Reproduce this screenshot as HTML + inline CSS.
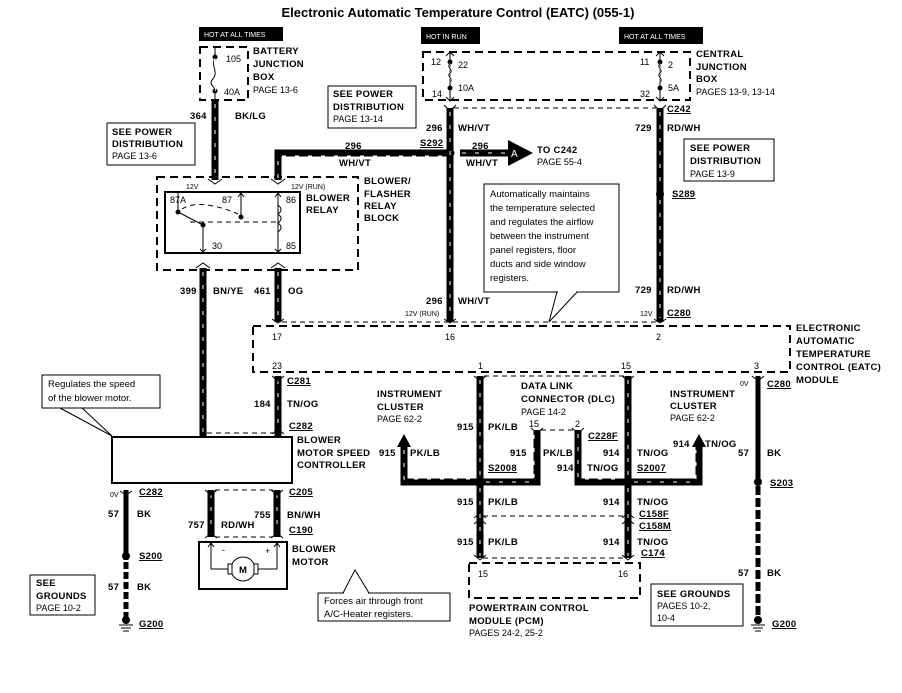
<!DOCTYPE html>
<html><head><meta charset="utf-8"><style>
html,body{margin:0;padding:0;background:#fff;}
svg{display:block;}
text{font-family:"Liberation Sans",sans-serif;fill:#000;}
.b{font-weight:bold;font-size:9.5px;letter-spacing:0.3px;}
.n{font-size:9px;}
.s{font-size:7px;}
.w{stroke:#000;stroke-width:7;fill:none;}
.wd{stroke:#fff;stroke-width:1;stroke-dasharray:4 9;fill:none;}
.d{stroke:#000;stroke-width:2;stroke-dasharray:8 5;fill:none;}
.dt{stroke:#000;stroke-width:1;stroke-dasharray:5 4;fill:none;}
.l{stroke:#000;stroke-width:1;fill:none;}
.bx{stroke:#000;stroke-width:1;fill:#fff;}
</style></head><body>
<svg width="902" height="693" viewBox="0 0 902 693" xmlns="http://www.w3.org/2000/svg">
<text x="458" y="17" text-anchor="middle" style="font-weight:bold;font-size:13px">Electronic Automatic Temperature Control (EATC) (055-1)</text>

<rect x="199" y="27" width="84" height="14" fill="#000"/>
<text x="204" y="37" class="s" style="fill:#fff">HOT AT ALL TIMES</text>
<rect x="421" y="27" width="59" height="17" fill="#000"/>
<text x="426" y="39" class="s" style="fill:#fff">HOT IN RUN</text>
<rect x="619" y="27" width="84" height="17" fill="#000"/>
<text x="624" y="39" class="s" style="fill:#fff">HOT AT ALL TIMES</text>

<path d="M200 47 H248 V100 H200 Z" class="d"/>
<path d="M215 48 V57 M215 92 V100" class="l"/>
<circle cx="215" cy="57" r="2.5"/><circle cx="215" cy="91" r="2.5"/>
<path d="M215 58 C210 66,220 72,212 80 C208 86,218 88,215 91" class="l" stroke-width="2"/>
<path d="M215 58 C212 66,220 72,214 80 C210 86,218 88,215 91" stroke="#fff" stroke-width="0.8" fill="none"/>
<text x="226" y="62" class="n">105</text><text x="224" y="95" class="n">40A</text>
<text x="253" y="54" class="b">BATTERY</text><text x="253" y="67" class="b">JUNCTION</text><text x="253" y="80" class="b">BOX</text><text x="253" y="93" class="n">PAGE 13-6</text>
<path d="M215 100 V180" class="w"/><path d="M215 104 V180" class="wd"/>
<text x="190" y="119" class="b">364</text><text x="235" y="119" class="b">BK/LG</text>

<rect x="107" y="123" width="88" height="42" class="bx"/>
<text x="112" y="135" class="b">SEE POWER</text><text x="112" y="147" class="b">DISTRIBUTION</text><text x="112" y="159" class="n">PAGE 13-6</text>

<rect x="328" y="86" width="88" height="42" class="bx"/>
<text x="333" y="97" class="b">SEE POWER</text><text x="333" y="110" class="b">DISTRIBUTION</text><text x="333" y="122" class="n">PAGE 13-14</text>

<path d="M157 177 H358 V270 H157 Z" class="d"/>
<path d="M208 179 L215 184 L222 179 M271 179 L278 184 L285 179 M196 268 L203 263 L210 268 M271 268 L278 263 L285 268" class="l" stroke-width="2"/>
<text x="186" y="189" class="s">12V</text><text x="291" y="189" class="s">12V (RUN)</text>
<rect x="165" y="192" width="135" height="61" fill="none" stroke="#000" stroke-width="2"/>
<text x="170" y="203" class="n">87A</text><text x="222" y="203" class="n">87</text><text x="286" y="203" class="n">86</text>
<text x="212" y="249" class="n">30</text><text x="286" y="249" class="n">85</text>
<path d="M241 193 V217 M178 193 V212 M203 225 V252 M278 193 V252" class="l"/>
<path d="M238 197 L241 193 L244 197 M200 249 L203 252 L206 249 M275 197 L278 193 L281 197 M275 249 L278 252 L281 249" class="l"/>
<circle cx="178" cy="212" r="2.5"/><circle cx="241" cy="217" r="2.5"/><circle cx="203" cy="225" r="2.5"/>
<path d="M178 212 L203 225" class="l" stroke-width="1.5"/>
<path d="M182 209 Q200 198 238 214" class="dt"/>
<path d="M190 222 H276" class="dt"/>
<path d="M278 205 c4 3 4 6 0 9 c4 3 4 6 0 9 c4 3 4 6 0 9" class="l"/>
<text x="306" y="201" class="b">BLOWER</text><text x="306" y="213" class="b">RELAY</text>
<text x="364" y="184" class="b">BLOWER/</text><text x="364" y="197" class="b">FLASHER</text><text x="364" y="209" class="b">RELAY</text><text x="364" y="221" class="b">BLOCK</text>

<path d="M278 180 V153 H450" class="w"/><path d="M278 178 V156 H448" class="wd"/>
<text x="345" y="149" class="b">296</text><text x="339" y="166" class="b">WH/VT</text>
<text x="420" y="146" class="b" style="text-decoration:underline">S292</text>
<circle cx="450" cy="153" r="4.5"/>

<path d="M423 52 H690 V100 H423 Z" class="d"/>
<path d="M450 53 V100 M660 53 V100" class="l"/>
<path d="M446 56 L450 52 L454 56 M446 97 L450 101 L454 97 M656 56 L660 52 L664 56 M656 97 L660 101 L664 97" class="l"/>
<circle cx="450" cy="62" r="2.5"/><circle cx="450" cy="88" r="2.5"/><circle cx="660" cy="62" r="2.5"/><circle cx="660" cy="88" r="2.5"/>
<path d="M450 64 c-4 3 4 6 0 9 c-4 3 4 6 0 9" stroke="#fff" stroke-width="2" fill="none"/>
<path d="M450 64 c-4 3 4 6 0 9 c-4 3 4 6 0 9" class="l"/>
<path d="M660 64 c-4 3 4 6 0 9 c-4 3 4 6 0 9" stroke="#fff" stroke-width="2" fill="none"/>
<path d="M660 64 c-4 3 4 6 0 9 c-4 3 4 6 0 9" class="l"/>
<text x="431" y="65" class="n">12</text><text x="458" y="68" class="n">22</text><text x="432" y="97" class="n">14</text><text x="458" y="91" class="n">10A</text>
<text x="640" y="65" class="n">11</text><text x="668" y="68" class="n">2</text><text x="640" y="97" class="n">32</text><text x="668" y="91" class="n">5A</text>
<text x="696" y="57" class="b">CENTRAL</text><text x="696" y="70" class="b">JUNCTION</text><text x="696" y="82" class="b">BOX</text><text x="696" y="95" class="n">PAGES 13-9, 13-14</text>
<path d="M454 108 H656" class="dt"/>
<path d="M444 105 L450 111 L456 105 M654 105 L660 111 L666 105" class="l" stroke-width="2"/>
<text x="667" y="112" class="b" style="text-decoration:underline">C242</text>

<path d="M450 108 V322" class="w"/><path d="M450 112 V318" class="wd"/>
<text x="426" y="131" class="b">296</text><text x="458" y="131" class="b">WH/VT</text>
<text x="426" y="304" class="b">296</text><text x="458" y="304" class="b">WH/VT</text>
<path d="M460 153 H510" class="w"/><path d="M462 153 H508" class="wd"/>
<polygon points="508,140 533,153 508,166" fill="#000"/>
<text x="511" y="157" style="font-size:10px;fill:#fff">A</text>
<text x="472" y="149" class="b">296</text><text x="466" y="166" class="b">WH/VT</text>
<text x="537" y="153" class="b">TO  C242</text><text x="537" y="165" class="n">PAGE 55-4</text>

<path d="M660 108 V322" class="w"/><path d="M660 112 V190 M660 200 V318" class="wd"/>
<circle cx="660" cy="194" r="4"/>
<text x="635" y="131" class="b">729</text><text x="667" y="131" class="b">RD/WH</text>
<text x="635" y="293" class="b">729</text><text x="667" y="293" class="b">RD/WH</text>
<text x="672" y="197" class="b" style="text-decoration:underline">S289</text>
<rect x="684" y="139" width="90" height="42" class="bx"/>
<text x="690" y="151" class="b">SEE POWER</text><text x="690" y="164" class="b">DISTRIBUTION</text><text x="690" y="177" class="n">PAGE 13-9</text>

<rect x="484" y="184" width="135" height="108" class="bx"/>
<text class="n" style="font-size:9.5px"><tspan x="490" y="197">Automatically maintains</tspan><tspan x="490" y="211">the temperature selected</tspan><tspan x="490" y="225">and regulates the airflow</tspan><tspan x="490" y="239">between the instrument</tspan><tspan x="490" y="253">panel registers, floor</tspan><tspan x="490" y="267">ducts and side window</tspan><tspan x="490" y="281">registers.</tspan></text>
<path d="M557 292 L549 322 L577 292" class="l"/><path d="M558 292 H576" stroke="#fff" stroke-width="2"/>

<path d="M203 268 V436" class="w"/><path d="M203 272 V434" class="wd"/>
<path d="M278 268 V322" class="w"/><path d="M278 272 V318" class="wd"/>
<text x="180" y="294" class="b">399</text><text x="213" y="294" class="b">BN/YE</text>
<text x="254" y="294" class="b">461</text><text x="288" y="294" class="b">OG</text>

<path d="M282 322 H656" class="dt"/>
<path d="M272 319 L278 323 L284 319 M444 319 L450 323 L456 319 M654 319 L660 323 L666 319" class="l" stroke-width="2"/>
<text x="405" y="316" class="s">12V (RUN)</text><text x="640" y="316" class="s">12V</text>
<text x="667" y="316" class="b" style="text-decoration:underline">C280</text>
<path d="M253 326 H790 V372 H253 Z" class="d"/>
<text x="272" y="340" class="n">17</text><text x="445" y="340" class="n">16</text><text x="656" y="340" class="n">2</text>
<text x="272" y="369" class="n">23</text><text x="478" y="369" class="n">1</text><text x="621" y="369" class="n">15</text><text x="754" y="369" class="n">3</text>
<text x="796" y="331" class="b">ELECTRONIC</text><text x="796" y="344" class="b">AUTOMATIC</text><text x="796" y="357" class="b">TEMPERATURE</text><text x="796" y="370" class="b">CONTROL (EATC)</text><text x="796" y="383" class="b">MODULE</text>

<path d="M278 376 V436" class="w"/><path d="M278 380 V432" class="wd"/>
<path d="M272 376 L278 381 L284 376 M272 434 L278 429 L284 434" class="l" stroke-width="2"/>
<path d="M207 433 H274" class="dt"/>
<text x="287" y="384" class="b" style="text-decoration:underline">C281</text>
<text x="254" y="407" class="b">184</text><text x="287" y="407" class="b">TN/OG</text>
<text x="289" y="429" class="b" style="text-decoration:underline">C282</text>

<rect x="42" y="375" width="118" height="33" class="bx"/>
<text x="48" y="387" class="n" style="font-size:9.5px">Regulates the speed</text><text x="48" y="401" class="n" style="font-size:9.5px">of the blower motor.</text>
<path d="M60 408 L112 436 M82 408 L112 436" class="l"/>

<rect x="112" y="437" width="180" height="46" fill="none" stroke="#000" stroke-width="2"/>
<text x="297" y="443" class="b">BLOWER</text><text x="297" y="456" class="b">MOTOR SPEED</text><text x="297" y="468" class="b">CONTROLLER</text>

<path d="M126 490 V560" stroke="#000" stroke-width="5"/>
<path d="M126 562 V618" stroke="#000" stroke-width="5" stroke-dasharray="7 3"/>
<path d="M120 491 L126 495 L132 491" class="l" stroke-width="2"/>
<circle cx="126" cy="556" r="4"/><circle cx="126" cy="620" r="4"/>
<path d="M119 625 H133 M121 628 H131 M123 631 H129" class="l"/>
<text x="110" y="497" class="s">0V</text>
<text x="139" y="495" class="b" style="text-decoration:underline">C282</text>
<text x="108" y="517" class="b">57</text><text x="137" y="517" class="b">BK</text>
<text x="139" y="559" class="b" style="text-decoration:underline">S200</text>
<text x="108" y="590" class="b">57</text><text x="137" y="590" class="b">BK</text>
<text x="139" y="627" class="b" style="text-decoration:underline">G200</text>
<rect x="30" y="575" width="65" height="40" class="bx"/>
<text x="36" y="586" class="b">SEE</text><text x="36" y="599" class="b">GROUNDS</text><text x="36" y="611" class="n">PAGE 10-2</text>

<path d="M211 490 V537" class="w"/><path d="M211 494 V534" class="wd"/>
<path d="M277 490 V537" class="w"/><path d="M277 494 V534" class="wd"/>
<path d="M205 490 L211 495 L217 490 M271 490 L277 495 L283 490 M205 538 L211 533 L217 538 M271 538 L277 533 L283 538" class="l" stroke-width="2"/>
<path d="M215 490 H273 M215 537 H273" class="dt"/>
<text x="289" y="495" class="b" style="text-decoration:underline">C205</text>
<text x="188" y="528" class="b">757</text><text x="221" y="528" class="b">RD/WH</text>
<text x="254" y="518" class="b">755</text><text x="287" y="518" class="b">BN/WH</text>
<text x="289" y="533" class="b" style="text-decoration:underline">C190</text>
<rect x="199" y="542" width="88" height="47" fill="none" stroke="#000" stroke-width="2"/>
<path d="M211 543 V569 H230 M277 543 V569 H256" class="l"/>
<path d="M208 547 L211 543 L214 547 M274 547 L277 543 L280 547" class="l"/>
<circle cx="243" cy="569" r="12" class="bx"/>
<rect x="228" y="564" width="4" height="10" class="bx"/><rect x="254" y="564" width="4" height="10" class="bx"/>
<text x="239" y="573" class="b">M</text>
<text x="222" y="553" class="n">-</text><text x="265" y="554" class="n">+</text>
<text x="292" y="552" class="b">BLOWER</text><text x="292" y="565" class="b">MOTOR</text>

<rect x="318" y="593" width="132" height="28" class="bx"/>
<text x="324" y="604" class="n" style="font-size:9.5px">Forces air through front</text><text x="324" y="617" class="n" style="font-size:9.5px">A/C-Heater registers.</text>
<path d="M343 593 L355 570 L369 593" class="l"/><path d="M344 593 H368" stroke="#fff" stroke-width="2"/>

<path d="M484 376 H624" class="dt"/>
<path d="M474 376 L480 381 L486 376 M622 376 L628 381 L634 376" class="l" stroke-width="2"/>
<path d="M480 376 V558" class="w"/><path d="M480 380 V478 M480 488 V556" class="wd"/>
<path d="M628 376 V558" class="w"/><path d="M628 380 V478 M628 488 V556" class="wd"/>
<path d="M404 445 V482 H480 M480 482 H537 V430 M578 430 V482 H628 M628 482 H699 V445" class="w"/>
<path d="M404 450 V479 H476 M486 482 H534 V434 M578 434 V479 H624 M634 482 H696 V450" class="wd"/>
<polygon points="397,447 404,434 411,447" fill="#000"/><polygon points="692,447 699,434 706,447" fill="#000"/>
<path d="M531 428 L537 433 L543 428 M572 428 L578 433 L584 428" class="l" stroke-width="2"/>
<path d="M541 430 H574" class="dt"/>
<circle cx="480" cy="482" r="4"/><circle cx="628" cy="482" r="4"/>
<path d="M483 516 H625 M483 558 H625" class="dt"/>
<path d="M474 518 L480 513 L486 518 M474 524 L480 519 L486 524 M622 518 L628 513 L634 518 M622 524 L628 519 L634 524 M474 555 L480 560 L486 555 M622 555 L628 560 L634 555" class="l" stroke-width="2"/>
<text x="377" y="397" class="b">INSTRUMENT</text><text x="377" y="410" class="b">CLUSTER</text><text x="377" y="422" class="n">PAGE 62-2</text>
<text x="670" y="397" class="b">INSTRUMENT</text><text x="670" y="409" class="b">CLUSTER</text><text x="670" y="421" class="n">PAGE 62-2</text>
<text x="521" y="389" class="b">DATA LINK</text><text x="521" y="402" class="b">CONNECTOR (DLC)</text><text x="521" y="415" class="n">PAGE 14-2</text>
<text x="457" y="430" class="b">915</text><text x="488" y="430" class="b">PK/LB</text>
<text x="529" y="427" class="n">15</text><text x="575" y="427" class="n">2</text>
<text x="588" y="439" class="b" style="text-decoration:underline">C228F</text>
<text x="379" y="456" class="b">915</text><text x="410" y="456" class="b">PK/LB</text>
<text x="510" y="456" class="b">915</text><text x="543" y="456" class="b">PK/LB</text>
<text x="603" y="456" class="b">914</text><text x="637" y="456" class="b">TN/OG</text>
<text x="673" y="447" class="b">914</text><text x="705" y="447" class="b">TN/OG</text>
<text x="488" y="471" class="b" style="text-decoration:underline">S2008</text>
<text x="557" y="471" class="b">914</text><text x="587" y="471" class="b">TN/OG</text>
<text x="637" y="471" class="b" style="text-decoration:underline">S2007</text>
<text x="457" y="505" class="b">915</text><text x="488" y="505" class="b">PK/LB</text>
<text x="603" y="505" class="b">914</text><text x="637" y="505" class="b">TN/OG</text>
<text x="639" y="517" class="b" style="text-decoration:underline">C158F</text>
<text x="639" y="529" class="b" style="text-decoration:underline">C158M</text>
<text x="457" y="545" class="b">915</text><text x="488" y="545" class="b">PK/LB</text>
<text x="603" y="545" class="b">914</text><text x="637" y="545" class="b">TN/OG</text>
<text x="641" y="556" class="b" style="text-decoration:underline">C174</text>

<path d="M469 563 H640 V598 H469 Z" class="d"/>
<text x="478" y="577" class="n">15</text><text x="618" y="577" class="n">16</text>
<text x="469" y="611" class="b">POWERTRAIN CONTROL</text><text x="469" y="624" class="b">MODULE (PCM)</text><text x="469" y="636" class="n">PAGES 24-2, 25-2</text>

<path d="M758 376 V484" stroke="#000" stroke-width="5"/>
<path d="M758 486 V618" stroke="#000" stroke-width="5" stroke-dasharray="9 3"/>
<path d="M752 376 L758 381 L764 376" class="l" stroke-width="2"/>
<circle cx="758" cy="482" r="4"/><circle cx="758" cy="620" r="4"/>
<path d="M751 625 H765 M753 628 H763 M755 631 H761" class="l"/>
<text x="740" y="386" class="s">0V</text>
<text x="767" y="387" class="b" style="text-decoration:underline">C280</text>
<text x="738" y="456" class="b">57</text><text x="767" y="456" class="b">BK</text>
<text x="770" y="486" class="b" style="text-decoration:underline">S203</text>
<text x="738" y="576" class="b">57</text><text x="767" y="576" class="b">BK</text>
<text x="772" y="627" class="b" style="text-decoration:underline">G200</text>
<rect x="651" y="584" width="92" height="42" class="bx"/>
<text x="657" y="597" class="b">SEE GROUNDS</text><text x="657" y="609" class="n">PAGES 10-2,</text><text x="657" y="621" class="n">10-4</text>
</svg>
</body></html>
